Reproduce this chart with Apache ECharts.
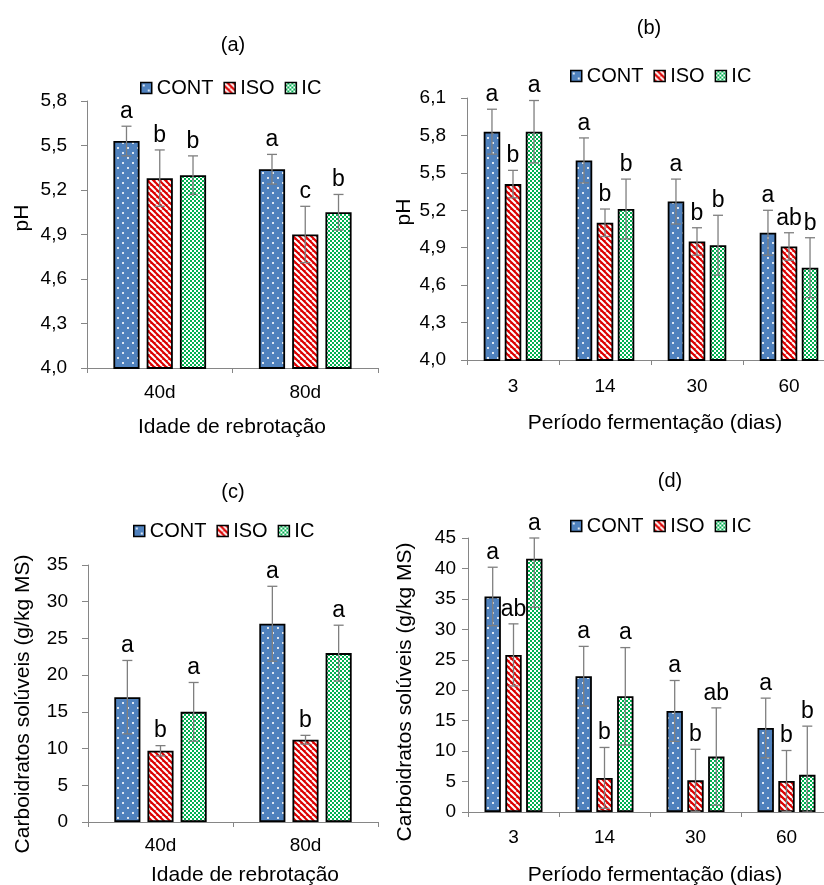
<!DOCTYPE html>
<html>
<head>
<meta charset="utf-8">
<script src="https://cdn.jsdelivr.net/npm/echarts@6/dist/echarts.min.js"></script>
<style>html,body{margin:0;padding:0;background:#fff;overflow:hidden;width:824px;height:885px}#c{width:850px;height:885px}</style>
</head>
<body>
<div id="c"></div>
<script>
// ---------- DATA ----------
const treatments = ['CONT', 'ISO', 'IC'];
const catAge = ['40d', '80d'];
const catFerm = ['3', '14', '30', '60'];

// (a) pH by regrowth age
const phAge_cont = [5.53, 5.34];
const phAge_iso  = [5.28, 4.90];
const phAge_ic   = [5.30, 5.05];
const phAge_cont_sd = [0.10, 0.10];
const phAge_iso_sd  = [0.19, 0.19];
const phAge_ic_sd   = [0.13, 0.12];
const phAge_cont_let = ['a', 'a'];
const phAge_iso_let  = ['b', 'c'];
const phAge_ic_let   = ['b', 'b'];

// (b) pH by fermentation period
const phFerm_cont = [5.83, 5.60, 5.27, 5.02];
const phFerm_iso  = [5.41, 5.10, 4.95, 4.91];
const phFerm_ic   = [5.83, 5.21, 4.92, 4.74];
const phFerm_cont_sd = [0.18, 0.18, 0.18, 0.18];
const phFerm_iso_sd  = [0.11, 0.11, 0.11, 0.11];
const phFerm_ic_sd   = [0.25, 0.24, 0.24, 0.24];
const phFerm_cont_let = ['a', 'a', 'a', 'a'];
const phFerm_iso_let  = ['b', 'b', 'b', 'ab'];
const phFerm_ic_let   = ['a', 'b', 'b', 'b'];

// (c) soluble carbohydrates by regrowth age
const csAge_cont = [17.0, 27.0];
const csAge_iso  = [9.7, 11.2];
const csAge_ic   = [15.0, 23.0];
const csAge_cont_sd = [5.0, 5.1];
const csAge_iso_sd  = [0.7, 0.6];
const csAge_ic_sd   = [4.0, 3.8];
const csAge_cont_let = ['a', 'a'];
const csAge_iso_let  = ['b', 'b'];
const csAge_ic_let   = ['a', 'a'];

// (d) soluble carbohydrates by fermentation period
const csFerm_cont = [35.4, 22.3, 16.6, 13.8];
const csFerm_iso  = [25.8, 5.6, 5.2, 5.1];
const csFerm_ic   = [41.6, 19.0, 9.1, 6.1];
const csFerm_cont_sd = [4.8, 4.9, 5.0, 4.9];
const csFerm_iso_sd  = [5.1, 5.0, 5.1, 5.0];
const csFerm_ic_sd   = [8.0, 8.0, 8.0, 8.0];
const csFerm_cont_let = ['a', 'a', 'a', 'a'];
const csFerm_iso_let  = ['ab', 'b', 'b', 'b'];
const csFerm_ic_let   = ['a', 'a', 'ab', 'b'];

// tick labels
const yTicksA = [4.0, 4.3, 4.6, 4.9, 5.2, 5.5, 5.8];
const yTicksB = [4.0, 4.3, 4.6, 4.9, 5.2, 5.5, 5.8, 6.1];
const yTicksC = [0, 5, 10, 15, 20, 25, 30, 35];
const yTicksD = [0, 5, 10, 15, 20, 25, 30, 35, 40, 45];

// ---------- STYLE ----------
const FONT = 'Liberation Sans, Arial, sans-serif';
const BAR_FRAC = 0.18, GAP_FRAC = 0.27;

function pattern(kind) {
  const c = document.createElement('canvas');
  let s;
  if (kind === 'CONT') {
    s = 10; c.width = s; c.height = s;
    const g = c.getContext('2d');
    g.fillStyle = '#4f81bd'; g.fillRect(0, 0, s, s);
    g.fillStyle = 'rgba(255,255,255,0.8)';
    g.fillRect(2, 2, 2, 2); g.fillRect(7, 7, 2, 2);
  } else if (kind === 'ISO') {
    s = 6; c.width = s; c.height = s;
    const g = c.getContext('2d');
    g.fillStyle = '#dc0000'; g.fillRect(0, 0, s, s);
    g.strokeStyle = '#ffffff'; g.lineWidth = 2;
    for (const o of [-s, 0, s]) { g.beginPath(); g.moveTo(o, 0); g.lineTo(o + s, s); g.stroke(); }
  } else {
    s = 4; c.width = s; c.height = s;
    const g = c.getContext('2d');
    g.fillStyle = '#00b050'; g.fillRect(0, 0, s, s);
    g.fillStyle = '#ffffff';
    g.fillRect(0, 0, 2, 2); g.fillRect(2, 2, 2, 2);
  }
  return { image: c, repeat: 'repeat' };
}
const fills = { CONT: pattern('CONT'), ISO: pattern('ISO'), IC: pattern('IC') };

const fmt = v => (Math.round(v * 10) / 10).toFixed(1).replace('.', ',');

const panels = [
  { cats: catAge, vals: [phAge_cont, phAge_iso, phAge_ic], sds: [phAge_cont_sd, phAge_iso_sd, phAge_ic_sd],
    lets: [phAge_cont_let, phAge_iso_let, phAge_ic_let], ticks: yTicksA, dec: true,
    grid: { left: 87, top: 101, width: 291, height: 267 }, yMargin: 20, xMargin: 15,
    legend: { left: 140, top: 78 } },
  { cats: catFerm, vals: [phFerm_cont, phFerm_iso, phFerm_ic], sds: [phFerm_cont_sd, phFerm_iso_sd, phFerm_ic_sd],
    lets: [phFerm_cont_let, phFerm_iso_let, phFerm_ic_let], ticks: yTicksB, dec: true,
    grid: { left: 467, top: 98, width: 368, height: 262 }, yMargin: 21, xMargin: 17,
    legend: { left: 570, top: 66 } },
  { cats: catAge, vals: [csAge_cont, csAge_iso, csAge_ic], sds: [csAge_cont_sd, csAge_iso_sd, csAge_ic_sd],
    lets: [csAge_cont_let, csAge_iso_let, csAge_ic_let], ticks: yTicksC, dec: false,
    grid: { left: 88, top: 565, width: 290, height: 257 }, yMargin: 20, xMargin: 14,
    legend: { left: 133, top: 521 } },
  { cats: catFerm, vals: [csFerm_cont, csFerm_iso, csFerm_ic], sds: [csFerm_cont_sd, csFerm_iso_sd, csFerm_ic_sd],
    lets: [csFerm_cont_let, csFerm_iso_let, csFerm_ic_let], ticks: yTicksD, dec: false,
    grid: { left: 468, top: 538, width: 364, height: 274 }, yMargin: 12, xMargin: 16,
    legend: { left: 570, top: 516 } }
];

const grids = [], xAxes = [], yAxes = [], legends = [], series = [];
panels.forEach((p, pi) => {
  grids.push(Object.assign({ containLabel: false }, p.grid));
  xAxes.push({
    gridIndex: pi, type: 'category', data: p.cats,
    axisLine: { lineStyle: { color: '#868686', width: 1 } },
    axisTick: { show: true, length: 5, lineStyle: { color: '#868686' } },
    axisLabel: { fontSize: 19, color: '#000', fontFamily: FONT, margin: p.xMargin },
    splitLine: { show: false }
  });
  const ymin = p.ticks[0], ymax = p.ticks[p.ticks.length - 1];
  yAxes.push({
    gridIndex: pi, type: 'value', min: ymin, max: ymax,
    axisLine: { show: true, lineStyle: { color: '#868686', width: 1 } },
    axisTick: { show: true, length: 6, customValues: p.ticks, lineStyle: { color: '#868686' } },
    axisLabel: { fontSize: 19, color: '#000', fontFamily: FONT, margin: p.yMargin, customValues: p.ticks,
      formatter: v => p.dec ? fmt(v) : String(Math.round(v)) },
    splitLine: { show: false }
  });
  legends.push({
    left: p.legend.left, top: p.legend.top, orient: 'horizontal', padding: 0,
    itemWidth: 11, itemHeight: 11, itemGap: 10, icon: 'rect',
    data: treatments,
    textStyle: { fontSize: 20, color: '#000', fontFamily: FONT },
    itemStyle: { borderColor: '#000', borderWidth: 1.5 }
  });
  treatments.forEach((t, k) => {
    series.push({
      name: t, type: 'bar', xAxisIndex: pi, yAxisIndex: pi,
      data: p.vals[k], barWidth: (BAR_FRAC * 100) + '%', barGap: (GAP_FRAC * 100) + '%',
      itemStyle: { color: fills[t], borderColor: '#000', borderWidth: 1.8 },
      z: 2
    });
  });
  const ebData = [], ebLet = [];
  treatments.forEach((t, k) => {
    p.vals[k].forEach((v, ci) => { ebData.push([ci, v, p.sds[k][ci], k]); ebLet.push(p.lets[k][ci]); });
  });
  series.push({
    type: 'custom', xAxisIndex: pi, yAxisIndex: pi, z: 5, silent: true,
    encode: { x: 0, y: 1 },
    data: ebData,
    renderItem: (params, api) => {
      const ci = api.value(0), v = api.value(1), sd = api.value(2), k = api.value(3);
      const catW = api.size([1, 0])[0];
      const bw = catW * BAR_FRAC, step = bw * (1 + GAP_FRAC);
      const x = api.coord([ci, v])[0] + (k - 1) * step;
      const yt = api.coord([ci, Math.min(v + sd, ymax)])[1];
      const yb = api.coord([ci, Math.max(v - sd, ymin)])[1];
      const ls = { stroke: '#7f7f7f', lineWidth: 1.3 };
      return {
        type: 'group', children: [
          { type: 'line', shape: { x1: x, y1: yt, x2: x, y2: yb }, style: ls },
          { type: 'line', shape: { x1: x - 5, y1: yt, x2: x + 5, y2: yt }, style: ls },
          { type: 'line', shape: { x1: x - 5, y1: yb, x2: x + 5, y2: yb }, style: ls },
          { type: 'text', x: x, y: yt - 3,
            style: { text: ebLet[params.dataIndex], fontSize: 23, fontFamily: FONT, fill: '#000',
              align: 'center', verticalAlign: 'bottom' } }
        ]
      };
    }
  });
});

function txt(text, x, y, size, rot) {
  return { type: 'text', x: x, y: y, rotation: rot || 0, z: 10,
    style: { text: text, fontSize: size, fontFamily: FONT, fill: '#000', align: 'center', verticalAlign: 'middle' } };
}
const graphics = [
  txt('(a)', 233, 45, 20), txt('(b)', 649, 28, 20), txt('(c)', 233, 492, 20), txt('(d)', 670, 481, 20),
  txt('Idade de rebrotação', 232, 427, 21), txt('Período fermentação (dias)', 655, 423, 21),
  txt('Idade de rebrotação', 245, 875, 21), txt('Período fermentação (dias)', 655, 875, 21),
  txt('pH', 22, 218, 21, Math.PI / 2), txt('pH', 404, 212, 21, Math.PI / 2),
  txt('Carboidratos solúveis (g/kg MS)', 23, 704, 21, Math.PI / 2),
  txt('Carboidratos solúveis (g/kg MS)', 405, 692, 21, Math.PI / 2)
];

const chart = echarts.init(document.getElementById('c'), null, { renderer: 'canvas' });
chart.setOption({
  animation: false,
  backgroundColor: '#fff',
  textStyle: { fontFamily: FONT },
  grid: grids, xAxis: xAxes, yAxis: yAxes, legend: legends,
  series: series, graphic: graphics
});
</script>
</body>
</html>
